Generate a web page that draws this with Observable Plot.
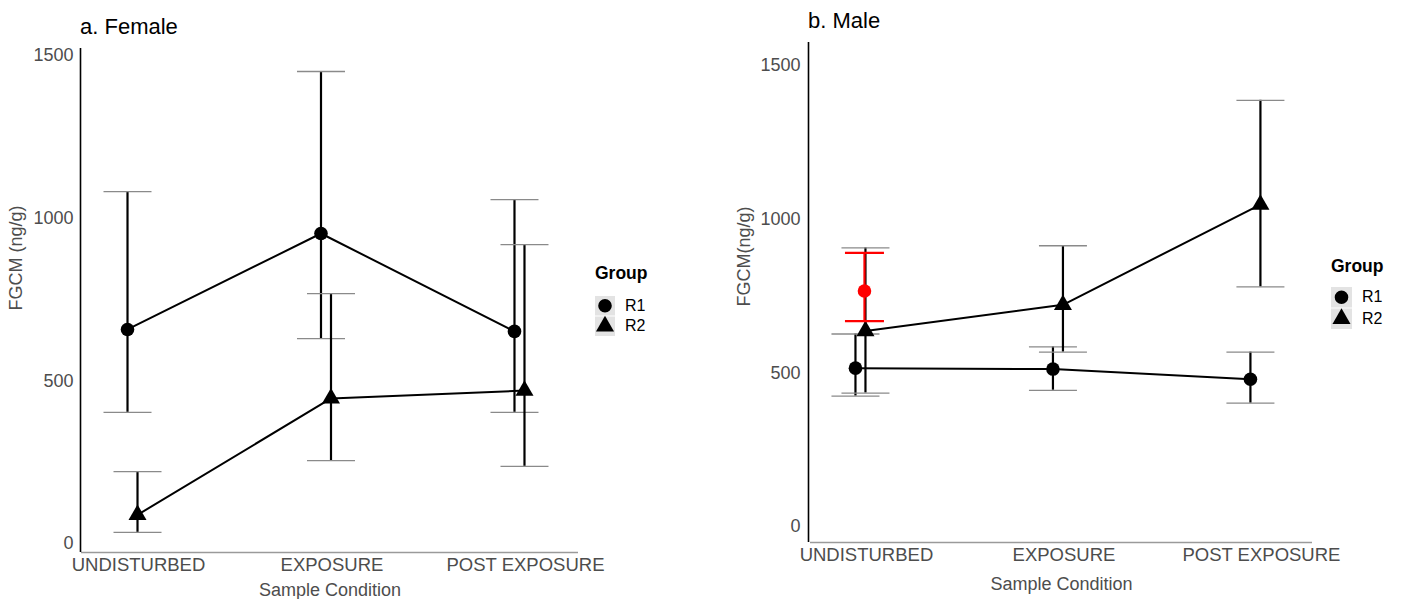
<!DOCTYPE html>
<html>
<head>
<meta charset="utf-8">
<script src="https://cdn.jsdelivr.net/npm/d3@7"></script>
<script src="https://cdn.jsdelivr.net/npm/@observablehq/plot@0.6"></script>
<style>
  html, body { margin: 0; padding: 0; background: #ffffff; }
  #root { position: relative; width: 1403px; height: 599px; overflow: hidden; font-family: "Liberation Sans", Arial, sans-serif; }
  .abs { position: absolute; white-space: nowrap; line-height: 1; }
  .title { font-size: 22px; color: #000; }
  .lg-title { font-size: 17.5px; font-weight: bold; color: #000; }
  .lg-label { font-size: 16px; color: #000; }
</style>
</head>
<body>
<div id="root"></div>
<script>
// ---------- data ----------
const conditions = ["UNDISTURBED", "EXPOSURE", "POST EXPOSURE"];
const groups = ["R1", "R2"];
const yTicks = [0, 500, 1000, 1500];

const femaleR1Mean  = [658, 953, 652];
const femaleR1Lower = [403, 630, 403];
const femaleR1Upper = [1082, 1451, 1057];
const femaleR2Mean  = [88, 446, 470];
const femaleR2Lower = [34, 255, 237];
const femaleR2Upper = [221, 768, 919];

const maleR1Mean  = [515, 512, 479];
const maleR1Lower = [424, 443, 401];
const maleR1Upper = [626, 584, 567];
const maleR2Mean  = [636, 721, 1047];
const maleR2Lower = [434, 567, 779];
const maleR2Upper = [906, 913, 1386];

const maleHighlightCondition = ["UNDISTURBED"];
const maleHighlightMean  = [766];
const maleHighlightLower = [668];
const maleHighlightUpper = [890];

// ---------- helpers ----------
function rowsOf(conds, mean, lower, upper, group) {
  return conds.map((c, i) => ({
    cond: c, pos: conditions.indexOf(c), group,
    mean: mean[i], lower: lower[i], upper: upper[i]
  }));
}

// horizontal cap symbol: half-width equals r
const capSymbol = {
  draw(context, size) {
    const w = Math.sqrt(size / Math.PI);
    context.moveTo(-w, 0);
    context.lineTo(w, 0);
  }
};

const AXIS_GRAY = "#4d4d4d";
const CAP_GRAY = "#8a8a8a";

function errMarks(rows, dx, color, capR, capColor, capWidth) {
  return [
    Plot.ruleX(rows, {x: "pos", y1: "lower", y2: "upper", stroke: color, strokeWidth: 2.2, dx}),
    Plot.dot(rows, {x: "pos", y: "upper", symbol: capSymbol, r: capR, fill: "none", stroke: capColor, strokeWidth: capWidth, dx}),
    Plot.dot(rows, {x: "pos", y: "lower", symbol: capSymbol, r: capR, fill: "none", stroke: capColor, strokeWidth: capWidth, dx})
  ];
}

function panel(cfg) {
  const r1 = rowsOf(conditions, cfg.r1[0], cfg.r1[1], cfg.r1[2], "R1");
  const r2 = rowsOf(conditions, cfg.r2[0], cfg.r2[1], cfg.r2[2], "R2");
  const marks = [
    Plot.ruleY([cfg.yDomain[0]], {stroke: "#9a9a9a", strokeWidth: 1.3}),
    Plot.ruleX([cfg.xDomain[0]], {stroke: "#000", strokeWidth: 1.6, dx: cfg.yLineDx}),
    Plot.axisY({ticks: yTicks, tickFormat: d => String(d), tickSize: 0, tickPadding: cfg.yTickPad, fontSize: 18, fill: AXIS_GRAY, label: null}),
    Plot.axisX({ticks: [0, 1, 2], tickFormat: i => conditions[i], tickSize: 0, tickPadding: 5, dx: 6, fontSize: 18.5, fill: AXIS_GRAY, label: null}),
    Plot.text([cfg.xLabel], {text: d => d, frameAnchor: "bottom", lineAnchor: "top", dy: cfg.xLabelDy, fontSize: 18, fill: AXIS_GRAY}),
    Plot.text([cfg.yLabel], {text: d => d, frameAnchor: "left", rotate: -90, lineAnchor: "middle", dx: cfg.yLabelDx, dy: cfg.yLabelDy, fontSize: 18, fill: AXIS_GRAY}),
    ...errMarks(r1, -5, "#000", 24, CAP_GRAY, 1.3),
    ...errMarks(r2, 5, "#000", 24, CAP_GRAY, 1.3),
    Plot.line(r1, {x: "pos", y: "mean", stroke: "#000", strokeWidth: 2, dx: -5}),
    Plot.line(r2, {x: "pos", y: "mean", stroke: "#000", strokeWidth: 2, dx: 5}),
    Plot.dot(r1, {x: "pos", y: "mean", symbol: "circle", r: 6.8, fill: "#000", stroke: "none", dx: -5}),
    Plot.dot(r2, {x: "pos", y: "mean", symbol: "triangle", r: 6.7, fill: "#000", stroke: "none", dx: 5})
  ];
  if (cfg.highlight) {
    const h = rowsOf(cfg.highlight[0], cfg.highlight[1], cfg.highlight[2], cfg.highlight[3], "highlight");
    marks.push(...errMarks(h, 4, "#ff0000", 19.5, "#ff0000", 2.2));
    marks.push(Plot.dot(h, {x: "pos", y: "mean", symbol: "circle", r: 6.8, fill: "#ff0000", stroke: "none", dx: 4}));
  }
  const svg = Plot.plot({
    width: cfg.width,
    height: 599,
    marginLeft: cfg.marginLeft,
    marginRight: cfg.marginRight,
    marginTop: cfg.marginTop,
    marginBottom: cfg.marginBottom,
    x: {type: "linear", domain: cfg.xDomain, axis: null},
    y: {type: "linear", domain: cfg.yDomain, axis: null},
    style: {fontFamily: '"Liberation Sans", Arial, sans-serif', background: "transparent", overflow: "visible"},
    marks
  });
  svg.style.position = "absolute";
  svg.style.left = cfg.left + "px";
  svg.style.top = "0px";
  return svg;
}

function addText(root, cls, text, left, top) {
  const d = document.createElement("div");
  d.className = "abs " + cls;
  d.textContent = text;
  d.style.left = left + "px";
  d.style.top = top + "px";
  root.appendChild(d);
}

function addLegend(root, cfg) {
  addText(root, "lg-title", "Group", cfg.x, cfg.titleTop);
  const svg = d3.create("svg")
    .attr("width", cfg.boxW).attr("height", cfg.boxH * 2 + 1)
    .style("position", "absolute")
    .style("left", cfg.x + "px").style("top", cfg.boxTop + "px");
  const syms = [d3.symbolCircle, d3.symbolTriangle];
  const sizes = [Math.PI * 6.8 * 6.8, Math.PI * 6.7 * 6.7];
  groups.forEach((g, i) => {
    svg.append("rect").attr("x", 0).attr("y", i * (cfg.boxH + 1))
      .attr("width", cfg.boxW).attr("height", cfg.boxH).attr("fill", "#e3e3e3");
    svg.append("path").attr("d", d3.symbol(syms[i], sizes[i])())
      .attr("transform", `translate(${cfg.boxW / 2},${i * (cfg.boxH + 1) + cfg.boxH / 2})`)
      .attr("fill", "#000");
    addText(root, "lg-label", g, cfg.x + cfg.labelDx, cfg.boxTop + i * (cfg.boxH + 1) + cfg.boxH / 2 - 7.8);
  });
  root.appendChild(svg.node());
}

// ---------- build ----------
const root = document.getElementById("root");

root.appendChild(panel({
  left: 0, width: 700,
  marginLeft: 81, marginRight: 122, marginTop: 48, marginBottom: 47,
  xDomain: [-0.2636, 2.305], yDomain: [-27.7, 1521.7],
  yLineDx: -1, yTickPad: 8,
  xLabel: "Sample Condition", xLabelDy: 31,
  yLabel: "FGCM (ng/g)", yLabelDx: -65, yLabelDy: 10,
  r1: [femaleR1Mean, femaleR1Lower, femaleR1Upper],
  r2: [femaleR2Mean, femaleR2Lower, femaleR2Upper]
}));

root.appendChild(panel({
  left: 700, width: 703,
  marginLeft: 110, marginRight: 91, marginTop: 42, marginBottom: 57,
  xDomain: [-0.253, 2.289], yDomain: [-52, 1574],
  yLineDx: -2, yTickPad: 10,
  xLabel: "Sample Condition", xLabelDy: 35,
  yLabel: "FGCM(ng/g)", yLabelDx: -66, yLabelDy: 14,
  r1: [maleR1Mean, maleR1Lower, maleR1Upper],
  r2: [maleR2Mean, maleR2Lower, maleR2Upper],
  highlight: [maleHighlightCondition, maleHighlightMean, maleHighlightLower, maleHighlightUpper]
}));

addText(root, "title", "a. Female", 80, 16);
addText(root, "title", "b. Male", 808, 10);

addLegend(root, {x: 595, titleTop: 265, boxTop: 296, boxW: 20, boxH: 19.5, labelDx: 30});
addLegend(root, {x: 1331, titleTop: 258, boxTop: 287, boxW: 21, boxH: 20.5, labelDx: 31});
</script>
</body>
</html>
